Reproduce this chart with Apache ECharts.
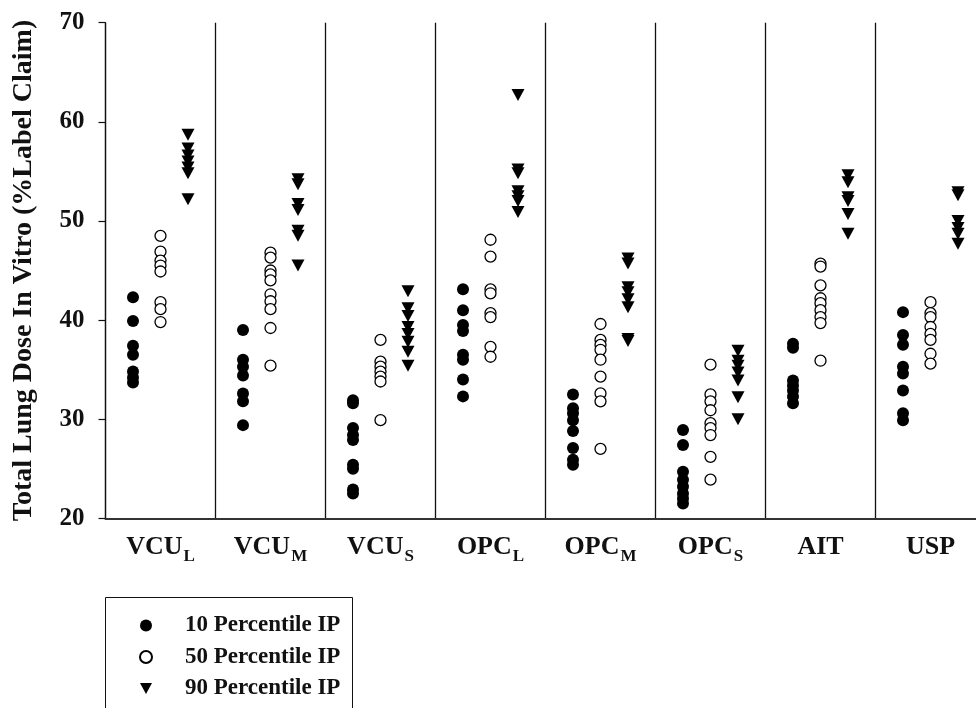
<!DOCTYPE html>
<html>
<head>
<meta charset="utf-8">
<script src="https://cdn.jsdelivr.net/npm/echarts@6/dist/echarts.min.js"></script>
<style>
  html, body { margin: 0; padding: 0; background: #fff; }
  #chart { width: 976px; height: 708px; }
</style>
</head>
<body>
<div id="chart"></div>
<script>
// Device groups along the x axis ("_X" marks a subscript)
const categories = ['VCU_L', 'VCU_M', 'VCU_S', 'OPC_L', 'OPC_M', 'OPC_S', 'AIT', 'USP'];

// Total lung dose (% label claim), one list per device group
const p10 = [
  [42.3, 39.9, 37.4, 36.5, 34.8, 34.2, 33.7],
  [39.0, 36.0, 35.3, 34.4, 32.6, 31.8, 29.4],
  [31.9, 31.6, 29.1, 28.4, 27.9, 25.4, 25.0, 22.9, 22.5],
  [43.1, 41.0, 39.5, 38.9, 36.5, 36.0, 34.0, 32.3],
  [32.5, 31.1, 30.6, 29.9, 28.8, 27.1, 25.9, 25.4],
  [28.9, 27.4, 24.7, 23.9, 23.2, 22.5, 22.0, 21.5],
  [37.6, 37.2, 33.9, 33.4, 32.9, 32.3, 31.6],
  [40.8, 38.5, 37.5, 35.3, 34.6, 32.9, 30.6, 29.9]
];
const p50 = [
  [48.5, 46.9, 46.0, 45.5, 44.9, 41.8, 41.1, 39.8],
  [46.8, 46.3, 45.0, 44.6, 44.0, 42.6, 41.9, 41.1, 39.2, 35.4],
  [38.0, 35.8, 35.3, 34.8, 34.3, 33.8, 29.9],
  [48.1, 46.4, 43.1, 42.7, 40.7, 40.3, 37.3, 36.3],
  [39.6, 38.0, 37.5, 37.0, 36.0, 34.3, 32.6, 31.8, 27.0],
  [35.5, 32.5, 31.8, 30.9, 29.6, 29.1, 28.4, 26.2, 23.9],
  [45.7, 45.4, 43.5, 42.2, 41.7, 41.0, 40.3, 39.7, 35.9],
  [41.8, 40.7, 40.3, 39.3, 38.6, 38.0, 36.6, 35.6]
];
const p90 = [
  [58.7, 57.3, 56.6, 56.0, 55.4, 54.8, 52.2],
  [54.2, 53.7, 51.7, 51.1, 49.0, 48.5, 45.5],
  [42.9, 41.2, 40.4, 39.3, 38.6, 37.8, 36.8, 35.4],
  [62.7, 55.2, 54.8, 53.0, 52.5, 52.0, 50.9],
  [46.2, 45.7, 43.3, 42.8, 42.1, 41.3, 38.1, 37.9],
  [36.9, 35.9, 35.4, 34.7, 33.9, 32.2, 30.0],
  [54.6, 53.9, 52.4, 52.0, 50.7, 48.7],
  [52.9, 52.6, 50.0, 49.3, 48.7, 47.7]
];

const seriesNames = ['10 Percentile IP', '50 Percentile IP', '90 Percentile IP'];
const yTicks = { min: 20, max: 70, step: 10 };

const FONT = '"Liberation Serif", "Times New Roman", serif';
const INK = '#111';

// place each group's points at a fixed offset inside its column
function toPoints(groups, offset) {
  const out = [];
  groups.forEach((vals, g) => vals.forEach(v => out.push([g + offset, v])));
  return out;
}

const chart = echarts.init(document.getElementById('chart'), null, { renderer: 'canvas' });

chart.setOption({
  animation: false,
  backgroundColor: '#fff',
  // the last column runs slightly past the right edge of the canvas
  grid: {
    left: 105.5, width: 880, top: 22.7, height: 495.6,
    containLabel: false, outerBoundsMode: 'none'
  },
  xAxis: [
    {
      type: 'value', min: 0, max: categories.length, interval: 1,
      axisLine: { show: true, onZero: false, lineStyle: { color: '#333', width: 2 } },
      axisTick: { show: false },
      axisLabel: { show: false },
      splitLine: { show: true, lineStyle: { color: INK, width: 1.3 } }
    },
    {
      type: 'category', data: categories, position: 'bottom', boundaryGap: true,
      axisLine: { show: false }, axisTick: { show: false }, splitLine: { show: false },
      axisLabel: {
        margin: 16,
        interval: 0,
        formatter: function (name) {
          const parts = name.split('_');
          return parts.length > 1 ? '{b|' + parts[0] + '}{s|' + parts[1] + '}' : '{b|' + parts[0] + '}';
        },
        rich: {
          b: { fontFamily: FONT, fontWeight: 'bold', fontSize: 26, color: INK, lineHeight: 27, verticalAlign: 'top' },
          s: { fontFamily: FONT, fontWeight: 'bold', fontSize: 17, color: INK, lineHeight: 17, padding: [14, 0, 0, 1], verticalAlign: 'top' }
        }
      }
    }
  ],
  yAxis: {
    type: 'value', min: yTicks.min, max: yTicks.max, interval: yTicks.step,
    name: 'Total Lung Dose In Vitro (%Label Claim)',
    nameLocation: 'middle', nameGap: 68, nameRotate: 90,
    nameTextStyle: { fontFamily: FONT, fontWeight: 'bold', fontSize: 28, color: INK },
    axisLine: { show: true, lineStyle: { color: INK, width: 1.2 } },
    axisTick: { show: true, length: 7, lineStyle: { color: INK, width: 1.2 } },
    axisLabel: { margin: 21, fontFamily: FONT, fontWeight: 'bold', fontSize: 25, color: INK },
    splitLine: { show: false }
  },
  legend: {
    orient: 'vertical', left: 139, top: 614, padding: 0,
    itemWidth: 12, itemHeight: 12, itemGap: 8.5,
    data: seriesNames,
    textStyle: { fontFamily: FONT, fontWeight: 'bold', fontSize: 23, color: INK, lineHeight: 20, padding: [0, 0, 0, 28] }
  },
  graphic: [
    {
      type: 'rect', z: 0,
      shape: { x: 105.5, y: 597.5, width: 247, height: 160 },
      style: { fill: 'none', stroke: INK, lineWidth: 1 }
    }
  ],
  series: [
    {
      name: seriesNames[0], type: 'scatter', xAxisIndex: 0,
      symbol: 'circle', symbolSize: 12,
      itemStyle: { color: '#000', opacity: 1 },
      data: toPoints(p10, 0.25)
    },
    {
      name: seriesNames[1], type: 'scatter', xAxisIndex: 0,
      symbol: 'circle', symbolSize: 11,
      itemStyle: { color: '#fff', borderColor: '#000', borderWidth: 1.3, opacity: 1 },
      data: toPoints(p50, 0.5)
    },
    {
      name: seriesNames[2], type: 'scatter', xAxisIndex: 0,
      symbol: 'path://M0,0 L10,0 L5,9 Z', symbolSize: [13, 12],
      itemStyle: { color: '#000', opacity: 1 },
      data: toPoints(p90, 0.75)
    }
  ]
});
</script>
</body>
</html>
